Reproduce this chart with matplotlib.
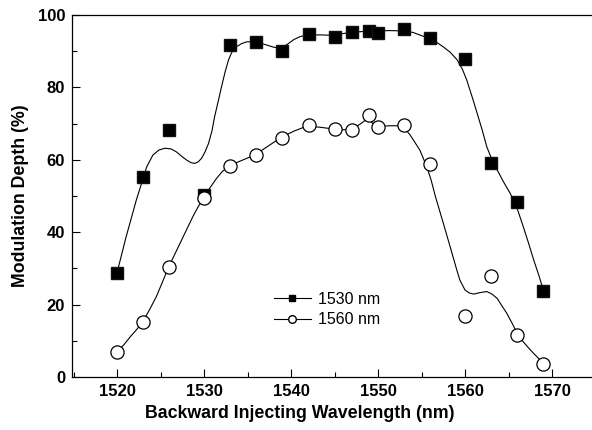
"""
Modulation depth versus backward injecting wavelength (1530 nm / 1560 nm probes).
"""

import matplotlib
matplotlib.use("Agg")
import matplotlib.pyplot as plt
from matplotlib.ticker import MultipleLocator

# --- Measured points ---
wl_1530 = [1520, 1523, 1526, 1530, 1533, 1536, 1539, 1542, 1545, 1547,
           1549, 1550, 1553, 1556, 1560, 1563, 1566, 1569]
depth_1530 = [28.8, 55.3, 68.2, 50.3, 91.7, 92.6, 90.1, 94.7, 93.8, 95.3,
              95.7, 95.1, 96.0, 93.6, 87.8, 59.0, 48.3, 23.7]

wl_1560 = [1520, 1523, 1526, 1530, 1533, 1536, 1539, 1542, 1545, 1547,
           1549, 1550, 1553, 1556, 1560, 1563, 1566, 1569]
depth_1560 = [7.0, 15.1, 30.3, 49.4, 58.4, 61.3, 66.1, 69.6, 68.4, 68.2,
              72.5, 69.0, 69.6, 58.8, 16.9, 27.9, 11.6, 3.7]

# --- Smoothed guide curves ---
fit_wl_1530 = [1520.0, 1521.0, 1522.2, 1522.8, 1523.4, 1524.1, 1524.8, 1525.5,
               1526.2, 1526.8, 1527.4, 1528.0, 1528.5, 1528.9, 1529.3, 1529.7,
               1530.1, 1530.5, 1530.9, 1531.2, 1531.6, 1532.0, 1532.4, 1532.8,
               1533.2, 1533.7, 1534.3, 1534.9, 1535.7, 1536.5, 1537.2, 1538.0,
               1538.7, 1539.5, 1540.3, 1541.0, 1541.8, 1543.3, 1544.8, 1546.8,
               1548.7, 1550.0, 1551.4, 1552.7, 1554.0, 1555.0, 1555.8, 1556.7,
               1557.5, 1558.3, 1559.1, 1559.7, 1560.2, 1560.8, 1561.4, 1562.0,
               1562.5, 1563.1, 1563.7, 1564.4, 1565.2, 1566.0, 1566.7, 1567.3,
               1567.9, 1568.5, 1569.0]
fit_1530 = [29.0, 38.5, 48.9, 53.5, 58.1, 61.3, 62.7, 63.2,
            63.0, 62.2, 61.0, 59.9, 59.2, 59.0, 59.4, 60.4,
            62.2, 64.5, 68.0, 71.9, 76.0, 80.2, 84.2, 87.6,
            89.8, 91.2, 92.1, 92.6, 92.6, 92.2, 91.7, 91.1,
            90.8, 91.8, 93.2, 94.0, 94.5, 94.5, 94.4, 95.2,
            95.5, 95.6, 95.7, 95.6, 95.2, 94.3, 93.6, 92.5,
            91.2, 89.7, 87.6, 85.0, 82.0, 77.5, 72.8, 68.0,
            63.6, 60.0, 57.2, 54.0, 50.7, 46.5, 41.5, 37.0,
            32.3, 28.0, 24.0]

fit_wl_1560 = [1520.0, 1520.8, 1521.5, 1522.2, 1522.9, 1523.7, 1524.5, 1525.2,
               1525.9, 1526.8, 1527.6, 1528.2, 1528.7, 1529.3, 1529.9, 1530.6,
               1531.4, 1532.1, 1532.9, 1534.4, 1535.8, 1537.3, 1538.8, 1540.3,
               1541.8, 1543.3, 1544.9, 1545.9, 1546.9, 1547.9, 1548.8, 1549.4,
               1549.9, 1551.3, 1552.8, 1553.7, 1554.8, 1555.6, 1556.1, 1556.6,
               1557.5, 1558.5, 1559.0, 1559.4, 1560.0, 1560.5, 1561.0, 1561.7,
               1562.5, 1563.1, 1563.7, 1564.2, 1564.8, 1565.4, 1566.0, 1566.7,
               1567.5, 1568.3, 1569.0]
fit_1560 = [7.0, 9.0, 11.1, 13.0, 15.1, 18.5, 22.2, 26.2,
            30.3, 34.8, 38.8, 41.8, 44.3, 47.0, 49.4, 52.0,
            54.8, 56.8, 58.4, 59.9, 61.3, 63.7, 66.1, 67.9,
            69.3, 69.0, 68.5, 68.3, 68.4, 69.8, 71.4, 70.0,
            69.2, 69.4, 69.4, 66.8, 62.7, 58.1, 54.4, 49.8,
            42.5, 34.2, 30.0, 26.8, 24.0, 23.2, 22.9, 23.3,
            23.6, 22.9, 21.7, 19.8, 17.6, 14.9, 12.1, 9.7,
            7.5, 5.5, 3.8]

x_ticks = [1520, 1530, 1540, 1550, 1560, 1570]
y_ticks = [0, 20, 40, 60, 80, 100]

plt.rcParams["font.family"] = ["Liberation Sans", "DejaVu Sans"]

fig = plt.figure(figsize=(5.92, 4.30), dpi=100)
ax = fig.add_axes([0.1216, 0.1233, 0.8784, 0.8418])

# courbes lissées + points mesurés
ax.plot(fit_wl_1530, fit_1530, "-", color="black", lw=0.8)
ax.plot(fit_wl_1560, fit_1560, "-", color="black", lw=0.8)
ax.plot(wl_1530, depth_1530, "s", color="black", ms=8.5, mec="#111111")
ax.plot(wl_1560, depth_1560, "o", mfc="white", mec="black", mew=0.9, ms=9.5)

# légende : trait + marqueur
ax.plot([], [], "-s", color="black", lw=0.8, ms=5, label="1530 nm")
ax.plot([], [], "-o", color="black", mfc="white", lw=0.8, ms=5.5, label="1560 nm")
handles, labels = ax.get_legend_handles_labels()
ax.legend(handles, labels, loc="upper left", bbox_to_anchor=(0.373, 0.2575),
          frameon=False, fontsize=11.5, handlelength=2.3, handletextpad=0.45,
          labelspacing=0.35, borderpad=0)

ax.set_xlim(1514.8, 1574.6)
ax.set_ylim(0, 100)
ax.set_xticks(x_ticks)
ax.set_yticks(y_ticks)
ax.xaxis.set_minor_locator(MultipleLocator(5))
ax.yaxis.set_minor_locator(MultipleLocator(10))
ax.tick_params(which="both", direction="in", top=False, right=False,
               labelsize=12, width=0.8, pad=5)
ax.tick_params(which="major", length=6)
ax.tick_params(which="minor", length=3.5)
for lbl in ax.get_xticklabels() + ax.get_yticklabels():
    lbl.set_fontweight("bold")
ax.spines["right"].set_visible(False)
for s in ["left", "bottom", "top"]:
    ax.spines[s].set_linewidth(0.9)

ax.set_xlabel("Backward Injecting Wavelength (nm)", fontsize=12.8,
              fontweight="bold")
ax.xaxis.set_label_coords(0.438, -0.078)
ax.set_ylabel("Modulation Depth (%)", fontsize=12.8, fontweight="bold",
              labelpad=6)

fig.savefig("out.png", dpi=100)
